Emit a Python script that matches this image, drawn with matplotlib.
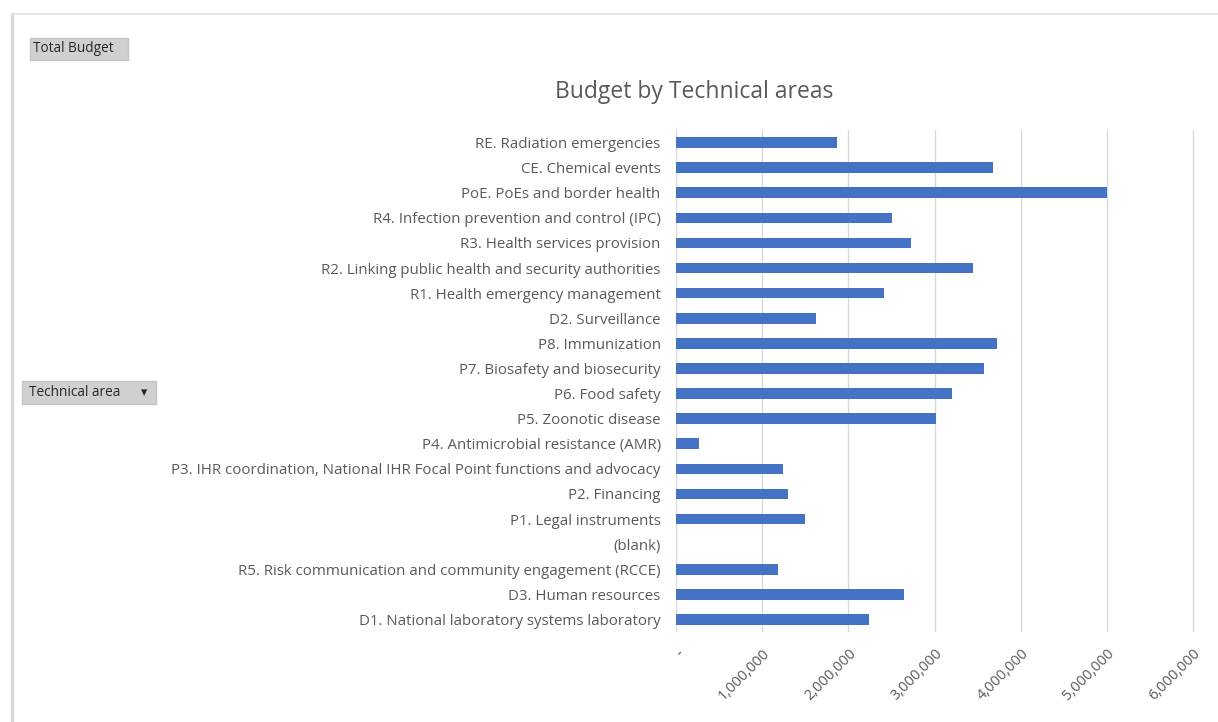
import matplotlib
matplotlib.use("Agg")
import matplotlib.pyplot as plt
from matplotlib.lines import Line2D
from matplotlib.patches import Rectangle
from matplotlib.ticker import FuncFormatter

plt.rcParams['font.family'] = ['Open Sans', 'DejaVu Sans']

categories = [
    "RE. Radiation emergencies",
    "CE. Chemical events",
    "PoE. PoEs and border health",
    "R4. Infection prevention and control (IPC)",
    "R3. Health services provision",
    "R2. Linking public health and security authorities",
    "R1. Health emergency management",
    "D2. Surveillance",
    "P8. Immunization",
    "P7. Biosafety and biosecurity",
    "P6. Food safety",
    "P5. Zoonotic disease",
    "P4. Antimicrobial resistance (AMR)",
    "P3. IHR coordination, National IHR Focal Point functions and advocacy",
    "P2. Financing",
    "P1. Legal instruments",
    "(blank)",
    "R5. Risk communication and community engagement (RCCE)",
    "D3. Human resources",
    "D1. National laboratory systems laboratory",
]
budget = [
    1870000, 3675000, 5000000, 2505000, 2730000, 3445000, 2410000, 1620000,
    3730000, 3575000, 3200000, 3020000, 272000, 1245000, 1300000, 1500000,
    0, 1188000, 2650000, 2245000,
]
x_ticks = [0, 1000000, 2000000, 3000000, 4000000, 5000000, 6000000]

W, H = 1218, 722
fig = plt.figure(figsize=(W / 100, H / 100), dpi=100)
ax = fig.add_axes([676 / W, 1 - 632 / H, (1200 - 676) / W, (632 - 130) / H])

ypos = list(range(len(categories)))
ax.barh(ypos, budget, height=0.42, color="#4472C4", zorder=3)
ax.set_yticks(ypos)
ax.set_yticklabels(categories)
ax.set_ylim(len(categories) - 0.5, -0.5)
ax.set_xlim(0, 6.08e6)
ax.set_xticks(x_ticks)
ax.xaxis.set_major_formatter(FuncFormatter(lambda v, p: "-" if v == 0 else f"{int(v):,}"))
ax.grid(axis="x", color="#d9d9d9", linewidth=1.0, zorder=0)
for s in ax.spines.values():
    s.set_visible(False)
ax.tick_params(axis="y", length=0, pad=11, labelsize=10.8, labelcolor="#595959")
ax.tick_params(axis="x", length=0, pad=10, labelsize=10.5, labelcolor="#595959")
for lbl in ax.get_xticklabels():
    lbl.set_rotation(45)
    lbl.set_ha("right")
    lbl.set_va("top")
    lbl.set_rotation_mode("anchor")

fig.text(694 / W, 1 - 92 / H, "Budget by Technical areas", ha="center", va="center",
         fontsize=16.5, color="#595959")

# frame lines
fig.add_artist(Line2D([12 / W, 12 / W], [0, 1 - 14 / H], color="#d9d9d9", linewidth=2.5))
fig.add_artist(Line2D([12 / W, 1], [1 - 14 / H, 1 - 14 / H], color="#e6e6e6", linewidth=1.5))

# pivot field buttons
def button(x0, y0, x1, y1):
    fig.add_artist(Rectangle((x0 / W, 1 - y1 / H), (x1 - x0) / W, (y1 - y0) / H,
                             transform=fig.transFigure, facecolor="#d0d0d0",
                             edgecolor="#c4c4c4", linewidth=1))

button(30, 38, 128, 60)
fig.text(33 / W, 1 - 49 / H, "Total Budget", ha="left", va="center", fontsize=9.8, color="#262626")
button(22, 381, 156, 404)
fig.text(29 / W, 1 - 393 / H, "Technical area", ha="left", va="center", fontsize=9.8, color="#262626")
fig.text(144 / W, 1 - 393 / H, "\u25be", ha="center", va="center", fontsize=9, color="#262626")

fig.savefig("out.png", dpi=100)
